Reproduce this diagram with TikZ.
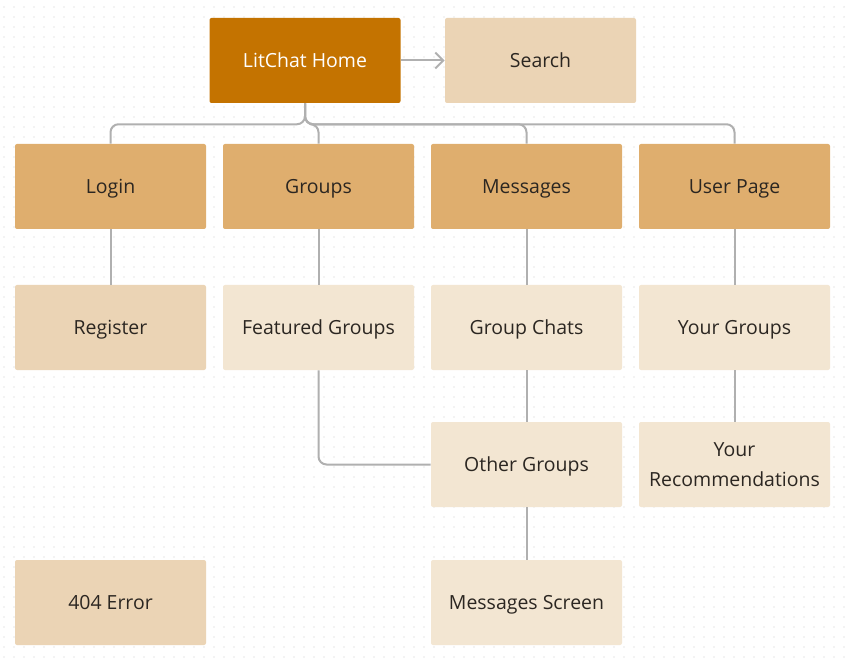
\documentclass[tikz,border=0pt]{standalone}
\usepackage{fontspec}
\setmainfont{Open Sans}
\usetikzlibrary{arrows.meta}
\definecolor{homec}{HTML}{C47300}
\definecolor{midc}{HTML}{DDA862}
\definecolor{softc}{HTML}{EAD1AF}
\definecolor{palec}{HTML}{F2E4CF}
\definecolor{linec}{HTML}{B0B0B0}
\definecolor{dotc}{HTML}{CFCFCF}
\definecolor{txtc}{HTML}{2B2621}
\tikzset{
  box/.style={rectangle, rounded corners=1.5pt, minimum width=143.25pt, minimum height=63.75pt,
    inner sep=0pt, align=center, font=\fontsize{14.6}{17}\selectfont, text=txtc, fill opacity=0.92, text opacity=1,
    text height=10.4pt, text depth=0pt},
  homebox/.style={box, fill=homec, text=white, fill opacity=1},
  midbox/.style={box, fill=midc},
  softbox/.style={box, fill=softc},
  palebox/.style={box, fill=palec},
  conn/.style={draw=linec, line width=1.5pt, rounded corners=6pt},
}
\begin{document}
\begin{tikzpicture}[x=0.75pt, y=-0.75pt]
\fill[white] (0,0) rectangle (849,666);
\useasboundingbox (0,0) rectangle (849,666);
\foreach \i in {0,...,84}{\foreach \j in {0,...,65}{\fill[dotc] (4+10*\i,7+10*\j) circle (0.55pt);}}
\node[homebox] (home) at (305,60.5) {LitChat Home};
\node[softbox] (search) at (540.5,60.5) {Search};
\node[midbox] (login) at (110.5,186.5) {Login};
\node[midbox] (groups) at (318.5,186.5) {Groups};
\node[midbox] (messages) at (526.5,186.5) {Messages};
\node[midbox] (user) at (734.5,186.5) {User Page};
\node[softbox] (register) at (110.5,327.5) {Register};
\node[palebox] (featured) at (318.5,327.5) {Featured Groups};
\node[palebox] (chats) at (526.5,327.5) {Group Chats};
\node[palebox] (yourgroups) at (734.5,327.5) {Your Groups};
\node[palebox] (other) at (526.5,464.5) {Other Groups};
\node[palebox, text height=, text depth=] (recs) at (734.5,464.5) {\rule{0pt}{3pt}Your\\[5pt]Recommendations};
\node[softbox] (err) at (110.5,602.5) {404 Error};
\node[palebox] (msgscreen) at (526.5,602.5) {Messages Screen};
\foreach \t in {login,groups,messages,user}{
  \draw[conn] (home.south) -- ++(0,21) -| (\t.north);
}
\draw[draw=linec, line width=1.5pt, -{Straight Barb[length=6pt,width=12pt,line width=1.5pt]}] (home.east) -- (search.west);
\draw[conn] (login.south) -- (register.north);
\draw[conn] (groups.south) -- (featured.north);
\draw[conn] (messages.south) -- (chats.north);
\draw[conn] (user.south) -- (yourgroups.north);
\draw[conn] (chats.south) -- (other.north);
\draw[conn] (yourgroups.south) -- (recs.north);
\draw[conn] (other.south) -- (msgscreen.north);
\draw[conn] (featured.south) |- (other.west);
\end{tikzpicture}
\end{document}
